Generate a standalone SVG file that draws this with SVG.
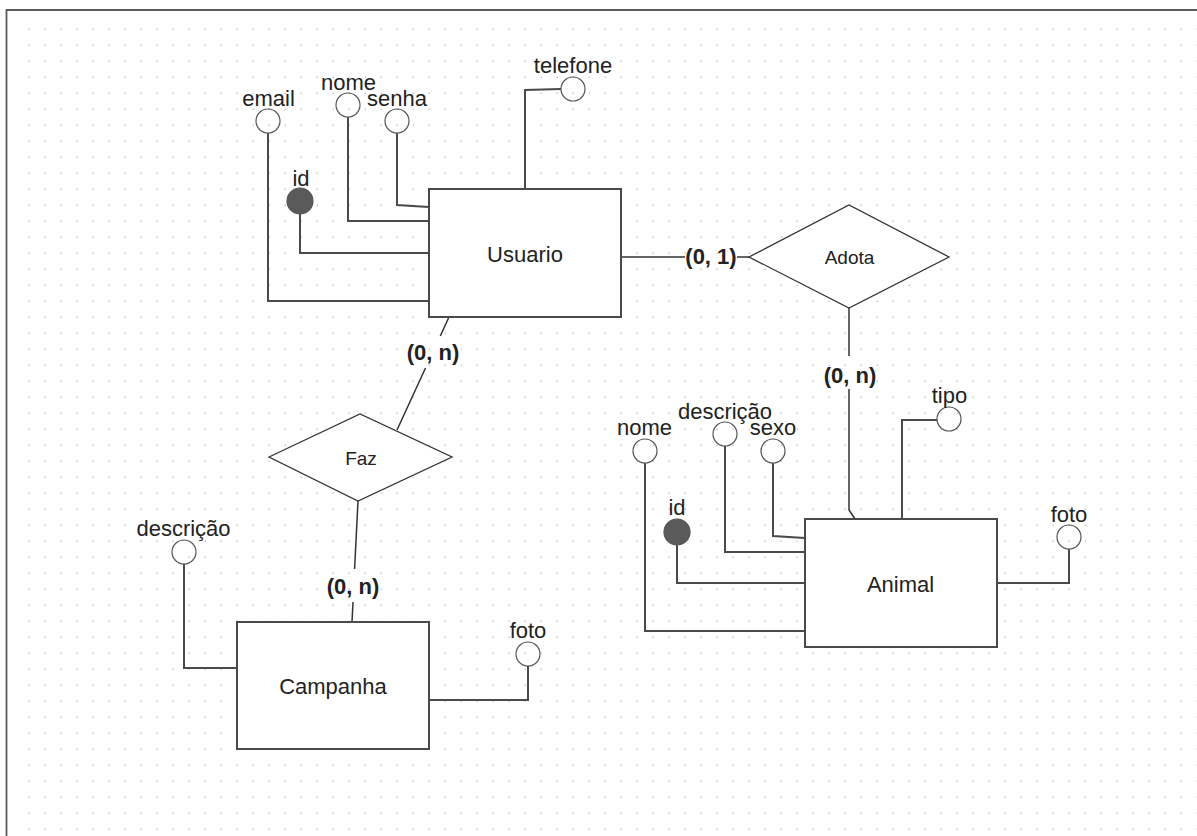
<svg xmlns="http://www.w3.org/2000/svg" width="1197" height="836" viewBox="0 0 1197 836">
<style>
.t{font-family:"Liberation Sans",Arial,Helvetica,sans-serif;font-size:22px;fill:#222;text-anchor:middle}
.d{font-size:19px}
.b{font-weight:bold}
.ent{fill:#fff;stroke:#4a4a4a;stroke-width:2}
.rel{fill:#fff;stroke:#333;stroke-width:1.3}
.att{fill:none;stroke:#555;stroke-width:1.2}
.key{fill:#5a5a5a;stroke:#555;stroke-width:1.2}
.ln{fill:none;stroke:#4a4a4a;stroke-width:2}
.cn{fill:none;stroke:#333;stroke-width:1.5}
</style>
<defs>
<pattern id="grid" x="21" y="21" width="16" height="16" patternUnits="userSpaceOnUse"><rect x="7.6" y="7.6" width="1.4" height="1.4" fill="#c4c4c4"/></pattern>
</defs>
<rect x="0" y="0" width="1197" height="836" fill="#fff"/>
<rect x="22" y="22" width="1175" height="814" fill="url(#grid)"/>
<path d="M6.5,836 V10 H1197" fill="none" stroke="#5a5a5a" stroke-width="1.8"/>

<g id="connectors">
  <path class="ln" d="M268,133 V301 H429"/>
  <path class="ln" d="M300,214 V253 H429"/>
  <path class="ln" d="M348,117 V221 H429"/>
  <path class="ln" d="M397,133 V205 L429,207"/>
  <path class="ln" d="M561,89 L525,90 V189"/>
  <path class="ln" d="M645,463 V631 H805"/>
  <path class="ln" d="M677,545 V583 H805"/>
  <path class="ln" d="M725,446 V552 H805"/>
  <path class="ln" d="M773,463 V536 L805,538"/>
  <path class="ln" d="M937,420 H902 V519"/>
  <path class="ln" d="M1069,549 V583 H997"/>
  <path class="ln" d="M184,564 V668 H237"/>
  <path class="ln" d="M528,666 V700 H429"/>
  <path class="cn" d="M621,257 H685 M737,257 H749"/>
  <path class="cn" d="M849,308 V356 M849,389 V510 L855,519"/>
  <path class="cn" d="M449,317 L440.3,336 M425.5,368 L397,430"/>
  <path class="cn" d="M358,501 L354.6,569 M353,602 L352,622"/>
  <text class="t b" x="711" y="264">(0, 1)</text>
  <text class="t b" x="850" y="383">(0, n)</text>
  <text class="t b" x="433" y="360">(0, n)</text>
  <text class="t b" x="353" y="594">(0, n)</text>
</g>

<g id="usuario">
  <rect class="ent" x="429" y="189" width="192" height="128"/>
  <text class="t" x="525" y="262">Usuario</text>
</g>
<g id="usuario-email"><circle class="att" cx="268" cy="121" r="12"/><text class="t" x="268.5" y="106">email</text></g>
<g id="usuario-id"><circle class="key" cx="300" cy="201" r="13"/><text class="t" x="301" y="186">id</text></g>
<g id="usuario-nome"><circle class="att" cx="348" cy="105" r="12"/><text class="t" x="348.5" y="90">nome</text></g>
<g id="usuario-senha"><circle class="att" cx="397" cy="121" r="12"/><text class="t" x="397" y="106">senha</text></g>
<g id="usuario-telefone"><circle class="att" cx="573" cy="89" r="12"/><text class="t" x="573" y="73">telefone</text></g>

<g id="adota">
  <polygon class="rel" points="749,257 849,205 949,257 849,308"/>
  <text class="t d" x="849.5" y="264">Adota</text>
</g>

<g id="faz">
  <polygon class="rel" points="269,457 360,414 452,457 358,501"/>
  <text class="t d" x="361" y="465">Faz</text>
</g>

<g id="campanha">
  <rect class="ent" x="237" y="622" width="192" height="127"/>
  <text class="t" x="333" y="694">Campanha</text>
</g>
<g id="campanha-descricao"><circle class="att" cx="184" cy="552" r="12"/><text class="t" x="183.5" y="536">descrição</text></g>
<g id="campanha-foto"><circle class="att" cx="528" cy="654" r="12"/><text class="t" x="528" y="638">foto</text></g>

<g id="animal">
  <rect class="ent" x="805" y="519" width="192" height="128"/>
  <text class="t" x="900.5" y="592">Animal</text>
</g>
<g id="animal-nome"><circle class="att" cx="645" cy="451" r="12"/><text class="t" x="644.5" y="435">nome</text></g>
<g id="animal-id"><circle class="key" cx="677" cy="532" r="13"/><text class="t" x="677" y="515">id</text></g>
<g id="animal-descricao"><circle class="att" cx="725" cy="434" r="12"/><text class="t" x="725" y="419">descrição</text></g>
<g id="animal-sexo"><circle class="att" cx="773" cy="451" r="12"/><text class="t" x="773" y="435">sexo</text></g>
<g id="animal-tipo"><circle class="att" cx="949" cy="419" r="12"/><text class="t" x="949.5" y="403">tipo</text></g>
<g id="animal-foto"><circle class="att" cx="1069" cy="537" r="12"/><text class="t" x="1069" y="522">foto</text></g>
</svg>
